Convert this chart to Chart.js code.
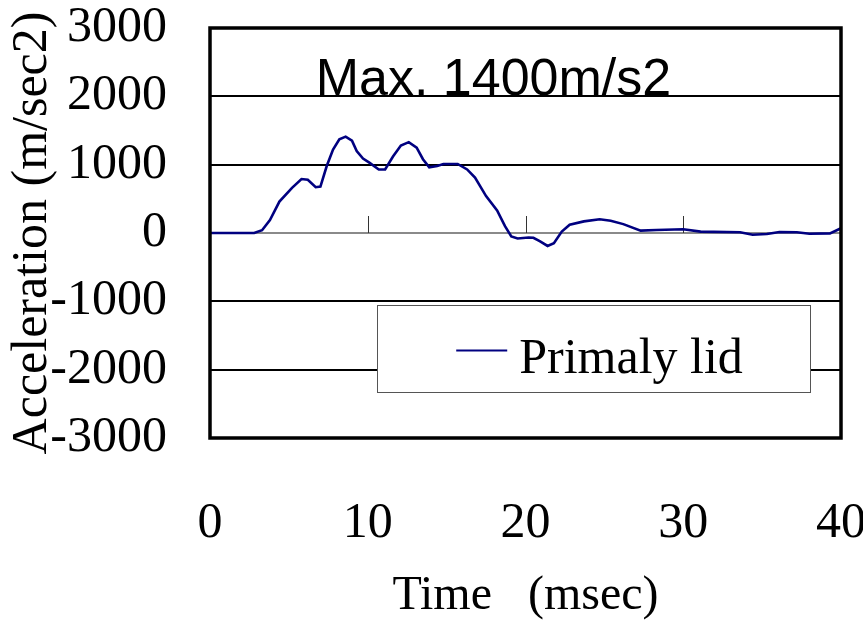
<!DOCTYPE html>
<html><head><meta charset="utf-8">
<script src="https://cdn.jsdelivr.net/npm/chart.js@4"></script>
<style>html,body{margin:0;padding:0;background:#fff;overflow:hidden}canvas{display:block}</style>
</head><body>
<canvas id="c" width="863" height="624"></canvas>
<script>
// ---- data ----
const timeMs = [0, 2.8, 3.3, 3.8, 4.4, 5.2, 5.8, 6.2, 6.7, 7.0, 7.4, 7.8, 8.2, 8.6, 9.0, 9.3, 9.7, 10.1, 10.7, 11.1,
  11.6, 12.1, 12.6, 13.1, 13.5, 13.9, 14.4, 14.8, 15.7, 16.3, 16.8, 17.5, 18.2, 18.7, 19.1, 19.5, 20.2, 20.5, 20.9, 21.4,
  21.8, 22.3, 22.8, 23.7, 24.7, 25.4, 26.2, 27.3, 28.3, 30.0, 31.1, 33.6, 34.4, 35.3, 36.1, 37.2, 38.0, 39.3, 40.0];
const accel = [0, 0, 40, 190, 460, 660, 790, 780, 670, 680, 980, 1220, 1370, 1410, 1350, 1200, 1090, 1030, 930, 930,
  1120, 1280, 1330, 1250, 1080, 960, 980, 1010, 1010, 930, 810, 540, 330, 100, -50, -80, -65, -70, -120, -190,
  -150, 20, 120, 170, 200, 180, 130, 35, 45, 55, 20, 10, -25, -15, 15, 10, -10, -5, 70];
const xTickValues = [0, 10, 20, 30, 40];
const yTickValues = [-3000, -2000, -1000, 0, 1000, 2000, 3000];
const seriesLabel = 'Primaly lid';
const noteText = 'Max. 1400m/s2';
const xTitle = 'Time   (msec)';
const yTitle = 'Acceleration (m/sec2)';

const SERIF = "'Liberation Serif', 'Times New Roman', serif";
const SANS = "'Liberation Sans', Arial, sans-serif";
const LINE_COLOR = '#000080';

const points = timeMs.map((t, i) => ({x: t, y: accel[i]}));

function noPad(s) { s.paddingLeft = 0; s.paddingRight = 0; s.paddingTop = 0; s.paddingBottom = 0; }

const decorPlugin = {
  id: 'decor',
  beforeDatasetsDraw(chart) {
    const {ctx, scales: {x, y}} = chart;
    const y0 = y.getPixelForValue(0);
    ctx.save();
    ctx.strokeStyle = '#333';
    ctx.lineWidth = 1;
    xTickValues.forEach(v => {
      const px = Math.round(x.getPixelForValue(v)) + 0.5;
      ctx.beginPath(); ctx.moveTo(px, y0); ctx.lineTo(px, y0 - 17); ctx.stroke();
    });
    ctx.restore();
  },
  afterDraw(chart) {
    const {ctx, chartArea: a, scales: {x, y}} = chart;
    ctx.save();
    // frame
    ctx.strokeStyle = '#000';
    ctx.lineWidth = 3.5;
    ctx.strokeRect(a.left, a.top, a.right - a.left, a.bottom - a.top);
    // annotation
    ctx.fillStyle = '#000';
    ctx.font = '52px ' + SANS;
    ctx.textBaseline = 'alphabetic';
    ctx.textAlign = 'left';
    ctx.fillText(noteText, x.getPixelForValue(6.7), y.getPixelForValue(2000) - 1);
    // legend box
    const bl = x.getPixelForValue(10.6), br = x.getPixelForValue(38.05);
    const bt = y.getPixelForValue(-1050), bb = y.getPixelForValue(-2330);
    ctx.fillStyle = '#fff';
    ctx.fillRect(bl, bt, br - bl, bb - bt);
    ctx.strokeStyle = '#555';
    ctx.lineWidth = 1;
    ctx.strokeRect(Math.round(bl) + 0.5, Math.round(bt) + 0.5, Math.round(br - bl), Math.round(bb - bt));
    const ly = (bt + bb) / 2 + 2;
    ctx.strokeStyle = LINE_COLOR;
    ctx.lineWidth = 2;
    ctx.beginPath(); ctx.moveTo(bl + 79, ly); ctx.lineTo(bl + 130, ly); ctx.stroke();
    ctx.fillStyle = '#000';
    ctx.font = '50px ' + SERIF;
    ctx.textBaseline = 'alphabetic';
    ctx.fillText(seriesLabel, bl + 142, ly + 23);
    ctx.restore();
  }
};

new Chart(document.getElementById('c'), {
  type: 'line',
  data: {
    datasets: [{
      label: seriesLabel,
      data: points,
      borderColor: LINE_COLOR,
      borderWidth: 2.6,
      pointRadius: 0,
      tension: 0,
      fill: false
    }]
  },
  options: {
    responsive: false,
    animation: false,
    layout: {padding: {top: 28, right: 22, left: 0, bottom: 0}},
    plugins: {legend: {display: false}, tooltip: {enabled: false}},
    scales: {
      x: {
        type: 'linear', min: 0, max: 40,
        afterBuildTicks(s) { s.ticks = xTickValues.map(v => ({value: v})); },
        afterFit(s) { s.height = 186; noPad(s); },
        grid: {display: false},
        border: {display: false},
        ticks: {color: '#000', font: {family: SERIF, size: 50, lineHeight: 1}, padding: 53, maxRotation: 0, autoSkip: false,
          callback: v => String(v)},
        title: {display: true, text: xTitle, color: '#000', font: {family: SERIF, size: 48, lineHeight: 1}, padding: {top: 0, bottom: 4}}
      },
      y: {
        min: -3000, max: 3000,
        afterBuildTicks(s) { s.ticks = yTickValues.map(v => ({value: v})); },
        afterFit(s) { s.width = 210; noPad(s); },
        grid: {
          drawTicks: false,
          color: c => c.tick.value === 0 ? '#8a8a8a' : '#000',
          lineWidth: 2
        },
        border: {display: false},
        ticks: {color: '#000', font: {family: SERIF, size: 50, lineHeight: 1}, padding: 43, autoSkip: false,
          callback: v => String(v)},
        title: {display: true, text: yTitle, color: '#000', font: {family: SERIF, size: 50, lineHeight: 1}, padding: {top: 8, bottom: 0}}
      }
    }
  },
  plugins: [decorPlugin]
});
</script>
</body></html>
